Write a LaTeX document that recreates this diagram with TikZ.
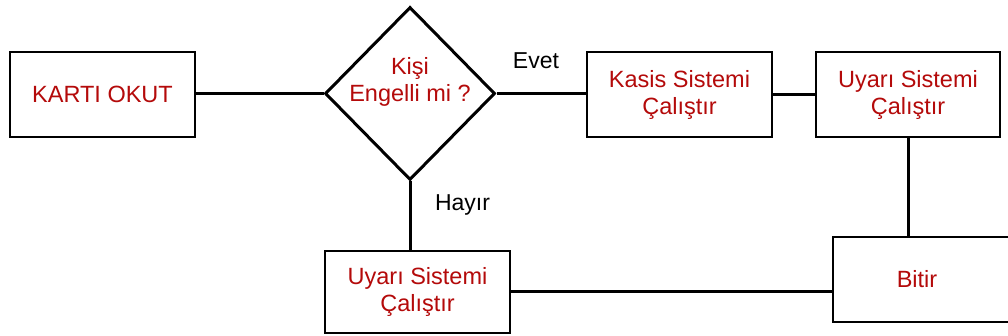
\documentclass[tikz,border=0pt]{standalone}
\usepackage{fontspec}
\setmainfont{Liberation Sans}
\usetikzlibrary{shapes.geometric}
\definecolor{txtred}{RGB}{180,10,10}
\tikzset{
  box/.style={draw=black, line width=2pt, fill=white, rectangle, inner sep=0pt,
    align=center, text=txtred, font=\fontsize{23.5}{27}\selectfont},
  decision/.style={draw=black, line width=3pt, diamond, inner sep=0pt,
    minimum width=170pt, minimum height=173pt},
  redtext/.style={align=center, text=txtred, font=\fontsize{23.5}{27}\selectfont, inner sep=0pt},
  lbl/.style={text=black, font=\fontsize{23}{27}\selectfont, inner sep=0pt},
  conn/.style={draw=black, line width=3pt}
}
\begin{document}
\begin{tikzpicture}[x=1pt,y=-1pt]
\useasboundingbox (0,0) rectangle (1008,336);
\clip (0,0) rectangle (1008,336);
\node[box, minimum width=185pt, minimum height=85pt] (kart) at (102.5,94.5) {KARTI OKUT};
\node[decision] (dia) at (410,93.5) {};
\node[redtext] (diatext) at (410,82) {Kişi\\Engelli mi ?};
\node[box, minimum width=185pt, minimum height=85pt] (kasis) at (679.5,94.5) {Kasis Sistemi\\Çalıştır};
\node[box, minimum width=184pt, minimum height=85pt] (uyari1) at (908,94.5) {Uyarı Sistemi\\Çalıştır};
\node[box, minimum width=185pt, minimum height=82pt] (uyari2) at (417.5,292) {Uyarı Sistemi\\Çalıştır};
\node[box, minimum width=179pt, minimum height=85pt] (bitir) at (922.5,279.5) {};
\node[redtext] (bitirtext) at (917,279.5) {Bitir};
\node[lbl] (evet) at (536,61) {Evet};
\node[lbl] (hayir) at (462.5,205) {Hayır};
\draw[conn] (dia.west -| kart.east) -- (dia.west);
\draw[conn] (dia.east) -- (dia.east -| kasis.west);
\draw[conn] (kasis.east) -- (kasis.east -| uyari1.west);
\draw[conn] (uyari1.south) -- (uyari1.south |- bitir.north);
\draw[conn] (dia.south) -- (dia.south |- uyari2.north);
\draw[conn] (uyari2.east) -- (uyari2.east -| bitir.west);
\end{tikzpicture}
\end{document}
